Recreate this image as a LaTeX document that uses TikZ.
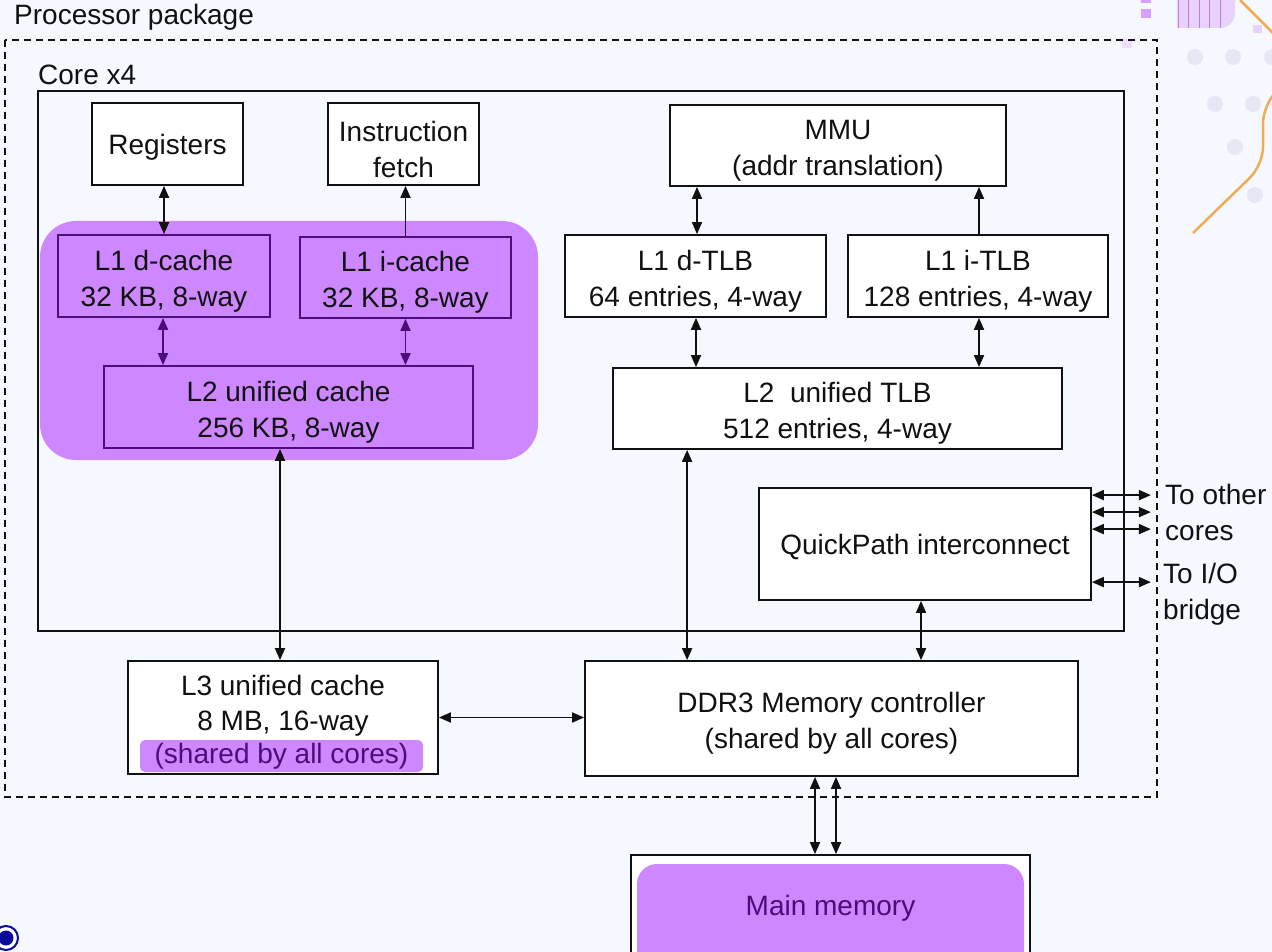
\documentclass[tikz,border=0pt]{standalone}
\usepackage{fontspec}
\setmainfont{Liberation Sans}
\usetikzlibrary{arrows.meta,calc}

\definecolor{pagebg}{RGB}{245,248,255}
\definecolor{lilac}{RGB}{205,135,255}
\definecolor{deeppurple}{RGB}{78,12,120}
\definecolor{inkblack}{RGB}{17,17,17}
\definecolor{dotgrey}{RGB}{229,231,245}
\definecolor{accentorange}{RGB}{240,172,85}
\definecolor{softlilac}{RGB}{232,210,252}
\definecolor{stripe}{RGB}{192,120,250}
\definecolor{navy}{RGB}{10,10,155}

\tikzset{
  txt/.style={font=\fontsize{28}{36}\selectfont, text=inkblack, align=center},
  whitebox/.style={draw=inkblack, fill=white, line width=1.8pt, inner sep=0pt},
  cachebox/.style={draw=deeppurple, fill=lilac, line width=1.8pt, inner sep=0pt},
  % box text is set as a centred label, lowered a little
  twolines/.style={label={[txt, inner sep=0pt, yshift=-5pt]center:{#1}}},
  oneline/.style={label={[txt, inner sep=0pt, yshift=-3pt]center:{#1}}},
  purpletext/.style={every label/.append style={text=deeppurple}},
  tipA/.tip={Triangle[length=12pt,width=10pt]},
  onearrow/.style={-tipA, line width=1.8pt, draw=inkblack},
  twoarrow/.style={tipA-tipA, line width=1.8pt, draw=inkblack},
  twoarrowp/.style={tipA-tipA, line width=1.8pt, draw=deeppurple},
  caption/.style={txt, anchor=west, inner sep=0pt},
}

\begin{document}
\begin{tikzpicture}[x=1pt,y=-1pt]
\useasboundingbox (0,0) rectangle (1272,952);
\fill[pagebg] (0,0) rectangle (1272,952);

% slide ornaments in the upper right corner
\begin{scope}
\clip (0,0) rectangle (1272,952);
\foreach \cx/\cy in {1195/57,1233/57,1272/57,1215/104,1253/104,1235/147,1255/195}
  \fill[dotgrey] (\cx,\cy) circle (8);
\fill[softlilac] (1177,-20) -- (1235,-20) -- (1235,13) arc[start angle=0, end angle=90, radius=15] -- (1177,28) -- cycle;
\foreach \sx in {1178,1188,1199,1209,1220}
  \draw[stripe, line width=1pt] (\sx,0) -- (\sx,28);
\fill[lilac!80] (1141,9) rectangle (1151,18);
\fill[lilac!80] (1141,0) rectangle (1151,3);
\fill[softlilac] (1253,25) rectangle (1262,33);
\fill[softlilac!70] (1122,39) rectangle (1132,48);
\draw[accentorange, line width=2.5pt, rounded corners=18pt]
  (1193,233) -- (1263,165) -- (1263,105) -- (1300,68);
\draw[accentorange, line width=2.5pt] (1240,0) -- (1280,40);
\end{scope}

% package and core outlines
\node[caption] (pkglabel) at (14,17) {Processor package};
\draw[inkblack, line width=1.6pt, dash pattern=on 7pt off 5pt] (5,40) rectangle (1157,797);
\node[caption] (corelabel) at (38,75) {Core x4};
\draw[inkblack, line width=1.8pt] (38,91) rectangle (1124,631);

% cache hierarchy region
\fill[lilac, rounded corners=36pt] (40,221) rectangle (538,460);

\node[whitebox, minimum width=151pt, minimum height=82pt, oneline={Registers}] (reg) at (167.5,144) {};
\node[whitebox, minimum width=151pt, minimum height=82pt, twolines={Instruction\\fetch}] (ifetch) at (403.5,144) {};
\node[cachebox, purpletext, minimum width=212pt, minimum height=82pt, twolines={L1 d-cache\\32 KB, 8-way}] (l1d) at (164,276) {};
\node[cachebox, purpletext, minimum width=211pt, minimum height=81pt, twolines={L1 i-cache\\32 KB, 8-way}] (l1i) at (405.5,277.5) {};
\node[cachebox, purpletext, minimum width=369pt, minimum height=82pt, twolines={L2 unified cache\\256 KB, 8-way}] (l2c) at (288.5,407) {};

% translation hierarchy
\node[whitebox, minimum width=336pt, minimum height=81pt, twolines={MMU\\(addr translation)}] (mmu) at (838,145.5) {};
\node[whitebox, minimum width=261pt, minimum height=82pt, twolines={L1 d-TLB\\64 entries, 4-way}] (dtlb) at (695.5,276) {};
\node[whitebox, minimum width=260pt, minimum height=82pt, twolines={L1 i-TLB\\128 entries, 4-way}] (itlb) at (978,276) {};
\node[whitebox, minimum width=449pt, minimum height=81pt, twolines={L2\ \ unified TLB\\512 entries, 4-way}] (l2tlb) at (837.5,408.5) {};

\node[whitebox, minimum width=332pt, minimum height=112pt, oneline={QuickPath interconnect}] (qpi) at (925,544) {};

% shared parts
\node[whitebox, minimum width=310pt, minimum height=113pt] (l3) at (283,717.5) {};
\node[txt, inner sep=0pt] (l3name) at (283,685) {L3 unified cache};
\node[txt, inner sep=0pt] (l3size) at (283,724) {8 MB, 16-way};
\node[txt, fill=lilac, text=deeppurple, rounded corners=5pt, inner sep=0pt,
      minimum width=283pt, minimum height=32pt] (l3shared) at (281.5,756) {(shared by all cores)};
\node[whitebox, minimum width=493pt, minimum height=115pt, twolines={DDR3 Memory controller\\(shared by all cores)}] (mc) at (831.5,718.5) {};

% main memory, running off the lower edge
\begin{scope}
\clip (0,0) rectangle (1272,952);
\node[whitebox, minimum width=399pt, minimum height=110pt] (mm) at (830.5,910) {};
\fill[lilac, rounded corners=20pt] (637,864) rectangle (1024,970);
\node[txt, text=deeppurple, inner sep=0pt] (mmtext) at (830.5,908) {Main memory};
\end{scope}

% connectors inside the core
\draw[twoarrow] (l1d.north |- reg.south) -- (l1d.north);
\draw[onearrow] (l1i.north) -- (l1i.north |- ifetch.south);
\draw[twoarrowp] ($(l1d.south)+(-1,0)$) -- ($(l1d.south |- l2c.north)+(-1,0)$);
\draw[twoarrowp] (l1i.south) -- (l1i.south |- l2c.north);
\draw[twoarrow] ($(dtlb.north)+(1.5,0)$) -- ($(dtlb.north |- mmu.south)+(1.5,0)$);
\draw[onearrow] ($(itlb.north)+(1,0)$) -- ($(itlb.north |- mmu.south)+(1,0)$);
\draw[twoarrow] ($(dtlb.south)+(0.5,0)$) -- ($(dtlb.south |- l2tlb.north)+(0.5,0)$);
\draw[twoarrow] ($(itlb.south)+(1,0)$) -- ($(itlb.south |- l2tlb.north)+(1,0)$);

% connectors to the shared parts
\draw[twoarrow] ($(l3.north |- l2c.south)+(-3,0)$) -- ($(l3.north)+(-3,0)$);
\draw[twoarrow] ($(l2tlb.south west)+(75,0)$) coordinate (tlbdown) -- (tlbdown |- mc.north);
\draw[twoarrow] ($(qpi.south)+(-4,0)$) -- ($(qpi.south |- mc.north)+(-4,0)$);
\draw[twoarrow] (l3.east) -- (l3.east -| mc.west);
\draw[twoarrow] ($(mc.south)+(-16.5,0)$) -- ($(mc.south |- mm.north)+(-16.5,0)$);
\draw[twoarrow] ($(mc.south)+(4.5,0)$) -- ($(mc.south |- mm.north)+(4.5,0)$);

% off-chip links of the interconnect
\foreach \dy/\nm in {8/a,25/b,42/c,95/d}{
  \coordinate (qe\nm) at ($(qpi.north east)+(0,\dy)$);
  \coordinate (qo\nm) at ($(qe\nm)+(59,0)$);
  \draw[twoarrow] (qe\nm) -- (qo\nm);
}
\node[caption, align=left] (othercores) at (1165,512) {To other\\cores};
\node[caption, align=left] (iobridge) at (1163,594) {To I/O\\bridge};

% navigation mark
\draw[navy, line width=2pt, fill=white] (6,938) circle (12);
\fill[navy] (6,938) circle (7.5);
\end{tikzpicture}
\end{document}
